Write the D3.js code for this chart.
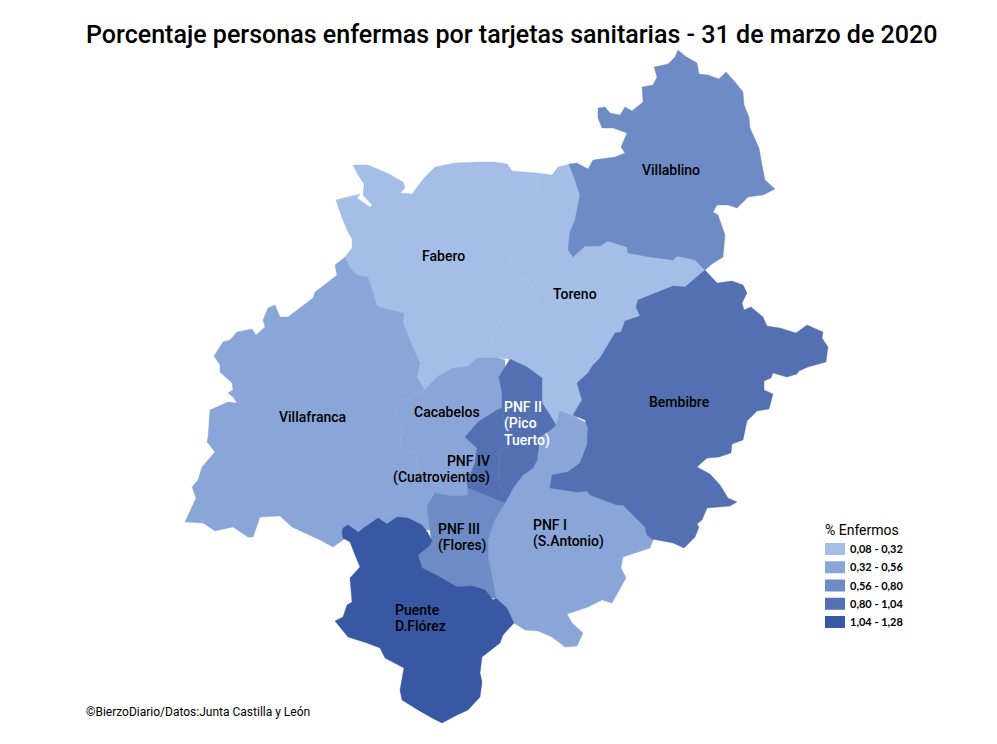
<!DOCTYPE html>
<html>
<head>
<meta charset="utf-8">
<script src="https://cdn.jsdelivr.net/npm/d3@7"></script>
<style>
  body { margin: 0; background: #fff; }
  text { font-family: Roboto, sans-serif; }
</style>
</head>
<body>
<div id="map"></div>
<script>
// Chart values
const regionNames = ["Fabero", "Toreno", "Villafranca", "Cacabelos", "PNF I", "PNF III", "PNF IV", "PNF II", "Villablino", "Bembibre", "Puente D.Flórez"];
const regionValues = [0.20, 0.24, 0.44, 0.46, 0.50, 0.68, 0.90, 0.92, 0.70, 0.94, 1.16]; // estimated from the class colours
const legendLabels = ["0,08 - 0,32", "0,32 - 0,56", "0,56 - 0,80", "0,80 - 1,04", "1,04 - 1,28"];
const classBreaks = [0.32, 0.56, 0.80, 1.04];
const classColors = ["#a5bee8", "#8aa5d8", "#6d8cc6", "#5370b2", "#3858a4"];

const seamFaberoToreno = [[537,173],[538,193],[530,210],[520,227],[510,240],[500,247],[515,268],[515,277],[527,282],[540,293],[537,307],[517,318],[500,323],[490,335],[497,350],[497,358]];
const seamFaberoVillafranca = [[425,390],[417,377],[420,363],[413,347],[403,323],[404,313],[387,309],[377,306],[373,292],[368,277],[357,275],[350,268],[345,257]];
const seamCacabelosVillafranca = [[382,523],[385,513],[403,495],[398,488],[417,470],[418,460],[415,452],[403,453],[400,438],[403,430],[395,415],[398,402],[425,390]];
const seamPnfOnePnfThree = [[505,503],[495,520],[488,540],[488,557],[493,580],[496,598]];
const seamPnfTwoPnfFour = [[513,488],[507,493],[502,492],[498,480],[500,450],[508,447],[505,425],[502,408]];

const faberoOutline = [[352,248],[352,239],[347,230],[341,215],[336,200],[360,194],[357,198],[370,207],[372,205],[363,195],[364,184],[358,175],[353,165],[368,165],[387,173],[403,182],[405,188],[400,193],[412,194],[424,178],[435,167],[455,163],[477,162],[495,162],[507,164],[512,171]];
const faberoClose = [[497,370],[470,380],[440,395]];
const torenoOutline = [[510,359],[527,367],[530,420],[565,425],[590,410],[600,375],[640,330],[690,295],[705,270],[700,255],[650,240],[600,200],[570,164],[558,167],[552,175]];
const villafrancaCoast = [[335,265],[337,275],[327,283],[315,292],[313,298],[288,317],[280,317],[275,305],[268,308],[263,320],[265,327],[256,335],[252,329],[237,332],[230,340],[223,342],[214,356],[220,365],[220,372],[232,383],[233,390],[228,393],[233,397],[237,403],[228,402],[210,410],[208,437],[207,442],[215,452],[202,467],[198,480],[192,487],[196,498],[185,522],[203,523],[215,531],[233,527],[248,537],[253,537],[260,517],[280,516],[292,527],[320,540],[333,547],[343,540],[360,530]];
const cacabelosOutline = [[437,377],[453,368],[467,367],[477,358],[497,358],[505,360],[505,410],[490,440],[480,470],[470,490],[468,495],[453,496],[435,493],[435,530],[405,530]];
const pnfOneOutline = [[496,598],[507,608],[514,623],[525,630],[538,631],[552,637],[565,647],[577,646],[583,633],[572,623],[567,614],[588,607],[602,600],[612,603],[626,578],[621,568],[623,557],[650,548],[655,535],[640,510],[600,480],[600,430],[573,416],[560,411],[556,425],[530,440],[515,480]];
const pnfThreeOutline = [[427,506],[435,493],[453,496],[468,495],[468,488],[490,497]];
const pnfThreeClose = [[470,600],[430,590],[405,560],[425,540],[431,538]];
const pnfFourOutline = [[505,503],[490,497],[468,488],[467,483],[475,463],[477,448],[465,437],[478,422],[497,410]];
const pnfTwoOutline = [[502,393],[499,377],[510,359],[527,367],[542,378],[542,403],[550,415],[556,425],[553,428],[540,437],[537,460],[533,468],[523,475]];
const villablinoOutline = [[678,50],[685,56],[697,63],[699,74],[708,75],[719,79],[726,72],[735,82],[743,92],[744,105],[749,117],[750,128],[759,148],[762,165],[765,180],[775,189],[763,195],[748,197],[737,208],[728,205],[717,205],[713,212],[718,215],[725,235],[723,257],[712,264],[705,270],[695,260],[677,256],[673,260],[650,257],[628,253],[627,247],[608,241],[600,246],[585,246],[573,257],[568,250],[570,232],[575,220],[580,195],[575,180],[569,164],[577,163],[588,169],[593,160],[615,157],[625,153],[621,147],[627,133],[613,128],[602,128],[598,118],[598,108],[605,107],[610,113],[620,115],[625,107],[632,111],[643,102],[642,87],[653,85],[657,77],[654,67],[668,64],[675,57]];
const bembibreOutline = [[705,270],[717,283],[732,281],[743,285],[747,293],[742,303],[744,310],[751,307],[763,317],[767,326],[780,328],[796,333],[807,325],[823,332],[822,338],[828,347],[826,362],[808,367],[799,371],[797,374],[787,377],[773,373],[771,378],[764,381],[764,390],[773,394],[769,409],[757,411],[747,421],[743,440],[732,444],[731,453],[719,457],[707,458],[697,467],[710,474],[720,485],[728,498],[737,502],[730,506],[707,508],[702,520],[697,524],[699,527],[695,537],[684,548],[673,543],[652,539],[647,535],[645,527],[623,505],[617,505],[590,495],[587,491],[577,492],[550,488],[552,475],[568,472],[580,463],[587,445],[588,428],[585,420],[573,415],[582,400],[577,383],[588,373],[593,365],[600,358],[615,333],[621,332],[625,321],[640,316],[636,307],[638,300],[663,290],[673,286],[685,287]];
const puenteOutline = [[343,528],[348,525],[358,532],[378,518],[387,524],[397,517],[408,518],[422,525],[428,533],[432,541],[429,546],[418,555],[422,568],[438,576],[457,587],[472,586],[485,590],[493,600],[496,598],[507,608],[514,623],[503,635],[500,643],[482,657],[480,673],[482,682],[480,697],[468,710],[457,715],[442,723],[432,718],[418,710],[402,700],[400,690],[404,668],[385,658],[380,648],[367,643],[348,637],[335,621],[343,617],[347,605],[352,602],[350,578],[360,567],[355,555],[350,542],[343,538],[342,532]];

const regionRings = [
    [...faberoOutline, ...seamFaberoToreno, ...faberoClose, ...seamFaberoVillafranca],
    [...seamFaberoToreno, ...torenoOutline],
    [...villafrancaCoast, ...seamCacabelosVillafranca, ...seamFaberoVillafranca],
    [...seamCacabelosVillafranca, ...cacabelosOutline],
    [...seamPnfOnePnfThree, ...pnfOneOutline],
    [...pnfThreeOutline, ...seamPnfOnePnfThree, ...pnfThreeClose],
    [...pnfFourOutline, ...[...seamPnfTwoPnfFour].reverse()],
    [...seamPnfTwoPnfFour, ...pnfTwoOutline],
    villablinoOutline,
    bembibreOutline,
    puenteOutline
];

// Map labels, lines in map units
const mapLabels = [
    { lines: ["Villablino"], x: 642, y: 170 },
    { lines: ["Fabero"], x: 422, y: 256 },
    { lines: ["Toreno"], x: 553, y: 294 },
    { lines: ["Bembibre"], x: 649, y: 402 },
    { lines: ["Villafranca"], x: 279, y: 417 },
    { lines: ["Cacabelos"], x: 414, y: 412 },
    { lines: ["PNF II", "(Pico", "Tuerto)"], x: 504, y: 407, color: "#fff" },
    { lines: ["PNF IV", "(Cuatrovientos)"], x: 490, y: 461, anchor: "end" },
    { lines: ["PNF III", "(Flores)"], x: 438, y: 529 },
    { lines: ["PNF I", "(S.Antonio)"], x: 533, y: 525 },
    { lines: ["Puente", "D.Flórez"], x: 395, y: 610 }
];

const width = 997;
const height = 744;

const svg = d3.select("#map").append("svg")
    .attr("width", width)
    .attr("height", height)
    .style("display", "block");

const color = d3.scaleThreshold().domain(classBreaks).range(classColors);

const features = regionRings.map((ring, i) => ({
    type: "Feature",
    properties: { name: regionNames[i], value: regionValues[i] },
    geometry: { type: "Polygon", coordinates: [[...ring, ring[0]]] }
}));

const projection = d3.geoIdentity()
    .fitExtent([[185, 50], [828, 723]], { type: "FeatureCollection", features });
const path = d3.geoPath(projection);

svg.append("g")
    .selectAll("path")
    .data(features)
    .enter().append("path")
    .attr("d", path)
    .attr("fill", d => color(d.properties.value))
    .attr("stroke", d => color(d.properties.value))
    .attr("stroke-width", 0.4);

// Region labels
const label = svg.append("g")
    .selectAll("text")
    .data(mapLabels)
    .enter().append("text")
    .attr("transform", d => `translate(${projection([d.x, d.y])})`)
    .attr("text-anchor", d => d.anchor || "start")
    .attr("fill", d => d.color || "#000")
    .style("font-size", "14px")
    .style("font-weight", 500);

label.selectAll("tspan")
    .data(d => d.lines)
    .enter().append("tspan")
    .attr("x", 0)
    .attr("y", (d, i) => i * 16.4 + 5)
    .text(d => d);

// Title and source
svg.append("text")
    .attr("x", 86)
    .attr("y", 43)
    .style("font-size", "25.05px")
    .style("font-weight", 500)
    .text("Porcentaje personas enfermas por tarjetas sanitarias - 31 de marzo de 2020");

svg.append("text")
    .attr("x", 86)
    .attr("y", 716)
    .style("font-size", "12px")
    .text("©BierzoDiario/Datos:Junta Castilla y León");

// Legend
const legendY = d3.scalePoint().domain(legendLabels).range([549, 622]);

svg.append("text")
    .attr("x", 825)
    .attr("y", 534.5)
    .style("font-size", "14px")
    .text("% Enfermos");

const legendRow = svg.append("g")
    .selectAll("g")
    .data(legendLabels)
    .enter().append("g")
    .attr("transform", d => `translate(825,${legendY(d)})`);

legendRow.append("rect")
    .attr("y", -6)
    .attr("width", 20)
    .attr("height", 12)
    .attr("fill", (d, i) => classColors[i]);

legendRow.append("text")
    .attr("x", 25)
    .attr("y", 4)
    .style("font-family", "Lato, sans-serif")
    .style("font-size", "11px")
    .style("font-weight", 700)
    .text(d => d);
</script>
</body>
</html>
